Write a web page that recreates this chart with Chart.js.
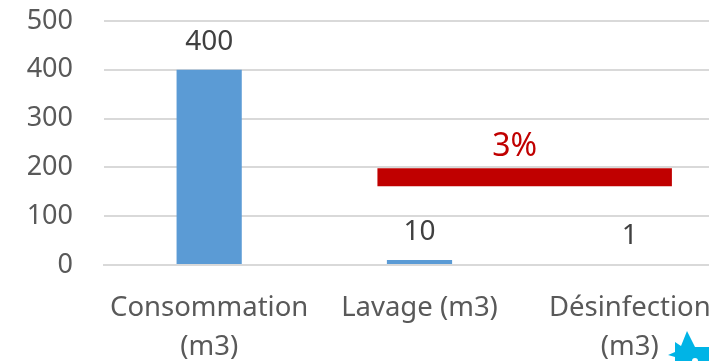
<!DOCTYPE html>
<html lang="fr">
<head>
<meta charset="utf-8">
<title>Consommation d'eau</title>
<script src="https://cdn.jsdelivr.net/npm/chart.js@4"></script>
<style>
  html, body { margin: 0; padding: 0; width: 709px; height: 361px; overflow: hidden; background: #fff; }
  #chart { position: absolute; left: 0; top: 0; }
  #splash { position: absolute; left: 668px; top: 331px; }
</style>
</head>
<body>
<canvas id="chart" width="735" height="361"></canvas>
<svg id="splash" width="41" height="30" viewBox="0 0 41 30">
  <path fill="#00b4e6" d="M7 30 L7 26 L0 24 L7 21 L7 11 L13 15 L19 0 L27 16 L41 16 L41 30 L30 30 A3 3 0 0 0 24 30 Z"/>
</svg>
<script>
"use strict";

const categories = [["Consommation", "(m3)"], "Lavage (m3)", ["Désinfection", "(m3)"]];
const volumes = [400, 10, 1];
const yTicks = [0, 100, 200, 300, 400, 500];

// Red ribbon running from the second to the third category
const shareLabel = "3%";
const shareX = [0.8, 2.2];
const shareY = [180, 180];

const FONT = "'Noto Sans'";

// Value labels above the bars and the ribbon
const markLabels = {
  id: "markLabels",
  afterDatasetsDraw(chart) {
    const { ctx } = chart;
    ctx.save();
    ctx.textAlign = "center";
    ctx.textBaseline = "middle";

    ctx.font = `28px ${FONT}`;
    ctx.fillStyle = "#404040";
    chart.getDatasetMeta(0).data.forEach((bar, i) => {
      ctx.fillText(String(volumes[i]), bar.x, bar.y - 28);
    });

    // The percentage sits a little left of the ribbon's middle
    const [a, b] = chart.getDatasetMeta(1).data;
    ctx.font = `32px ${FONT}`;
    ctx.fillStyle = "#c00000";
    ctx.fillText(shareLabel, (a.x + b.x) / 2 - 10, a.y - 30);
    ctx.restore();
  },
};

new Chart(document.getElementById("chart"), {
  data: {
    labels: categories,
    datasets: [
      {
        type: "bar",
        data: volumes,
        backgroundColor: "#5b9bd5",
        grouped: false,
        categoryPercentage: 1,
        barPercentage: 0.31,
        order: 2,
      },
      {
        type: "line",
        data: shareX.map((x, i) => ({ x, y: shareY[i] })),
        xAxisID: "x2",
        borderColor: "#c00000",
        borderWidth: 18,
        borderCapStyle: "butt",
        pointRadius: 0,
        tension: 0,
        order: 1,
      },
    ],
  },
  options: {
    responsive: false,
    animation: false,
    layout: { padding: { top: 21, left: 0, right: 0, bottom: 0 } },
    plugins: { legend: { display: false }, tooltip: { enabled: false } },
    scales: {
      x: {
        grid: { display: false },
        border: { color: "#d9d9d9", width: 2, z: 1 },
        ticks: {
          color: "#595959",
          font: { family: FONT, size: 27.5, lineHeight: 1.42 },
          padding: 16,
          maxRotation: 0,
          autoSkip: false,
        },
        afterFit: (scale) => {
          scale.height = 96;
          scale.paddingLeft = 0;
          scale.paddingRight = 0;
        },
      },
      x2: { type: "linear", display: false, min: -0.5, max: 2.5 },
      y: {
        min: 0,
        max: 500,
        afterBuildTicks: (scale) => { scale.ticks = yTicks.map((value) => ({ value })); },
        grid: { color: "#d9d9d9", lineWidth: 2, drawTicks: false },
        border: { display: false },
        ticks: {
          color: "#595959",
          font: { family: FONT, size: 27 },
          padding: 31,
        },
        afterFit: (scale) => {
          scale.width = 104;
          scale.paddingTop = 0;
          scale.paddingBottom = 0;
        },
      },
    },
  },
  plugins: [markLabels],
});
</script>
</body>
</html>
